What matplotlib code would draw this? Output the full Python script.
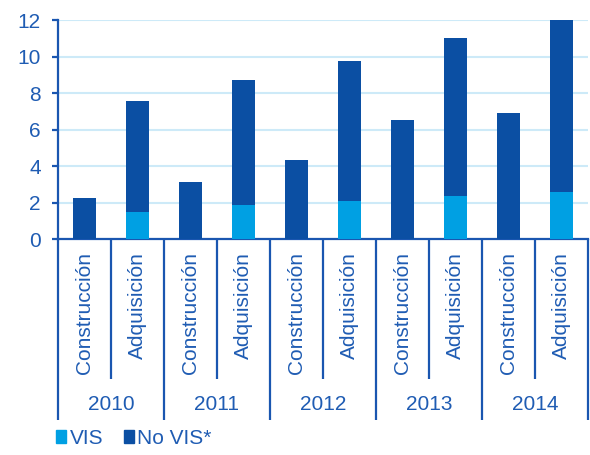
import numpy as np
import matplotlib.pyplot as plt
import matplotlib.transforms as mtransforms

plt.rcParams['font.family'] = ['Liberation Sans', 'DejaVu Sans']

# datos: viviendas financiadas por año y destino
years = ['2010', '2011', '2012', '2013', '2014']
destinos = ['Construcción', 'Adquisición']
vis = [0.0, 1.49, 0.0, 1.86, 0.0, 2.10, 0.0, 2.39, 0.0, 2.57]
no_vis = [2.24, 6.06, 3.15, 6.84, 4.32, 7.64, 6.53, 8.64, 6.90, 9.43]

c_vis = '#00a0e3'
c_novis = '#0b4fa3'
c_axis = '#1a56b0'
c_text = '#1f5cb3'
c_grid = '#cdeaf8'
fs = 15

fig = plt.figure(figsize=(5.9, 4.55), dpi=100)
ax = fig.add_axes([0.0983, 0.474, 0.8983, 0.482])

n = len(vis)
x = np.arange(n) + 0.5
ax.bar(x, vis, width=0.45, color=c_vis, zorder=3)
ax.bar(x, no_vis, width=0.45, bottom=vis, color=c_novis, zorder=3)

ax.set_xlim(0, n)
ax.set_ylim(0, 12)
ax.set_yticks(np.arange(0, 13, 2))
ax.yaxis.grid(True, color=c_grid, linewidth=1.5, zorder=0)
ax.set_axisbelow(True)

for s in ['top', 'right']:
    ax.spines[s].set_visible(False)
for s in ['left', 'bottom']:
    ax.spines[s].set_color(c_axis)
    ax.spines[s].set_linewidth(1.6)

ax.tick_params(axis='y', colors=c_axis, labelcolor=c_text, labelsize=fs,
               length=4.5, width=1.6, direction='out', pad=8)

# separadores: largos entre años, cortos entre destinos
ax.set_xticks(np.arange(0, n + 1, 2))
ax.set_xticks(np.arange(1, n, 2), minor=True)
ax.tick_params(axis='x', which='major', length=130, width=1.6,
               color=c_axis, labelbottom=False)
ax.tick_params(axis='x', which='minor', length=101, width=1.6,
               color=c_axis, labelbottom=False)

trans = mtransforms.blended_transform_factory(ax.transData, ax.transAxes)
for i, xi in enumerate(x):
    ax.text(xi, 0, destinos[i % 2], rotation=90, ha='center', va='top',
            fontsize=fs, color=c_text, transform=trans + mtransforms.ScaledTranslation(
                0, -9 / 72, fig.dpi_scale_trans))
for j, yr in enumerate(years):
    ax.text(2 * j + 1, 0, yr, ha='center', va='center', fontsize=fs,
            color=c_text, transform=trans + mtransforms.ScaledTranslation(
                0, -119 / 72, fig.dpi_scale_trans))

# leyenda
handles = [plt.Rectangle((0, 0), 1, 1, color=c_vis),
           plt.Rectangle((0, 0), 1, 1, color=c_novis)]
fig.legend(handles, ['VIS', 'No VIS*'], loc='center left',
           bbox_to_anchor=(0.063, 0.037), ncol=2, frameon=False,
           fontsize=fs, labelcolor=c_text, handlelength=0.5,
           handleheight=0.6, handletextpad=0.15, columnspacing=1.0)

fig.savefig('out.png', dpi=100)
